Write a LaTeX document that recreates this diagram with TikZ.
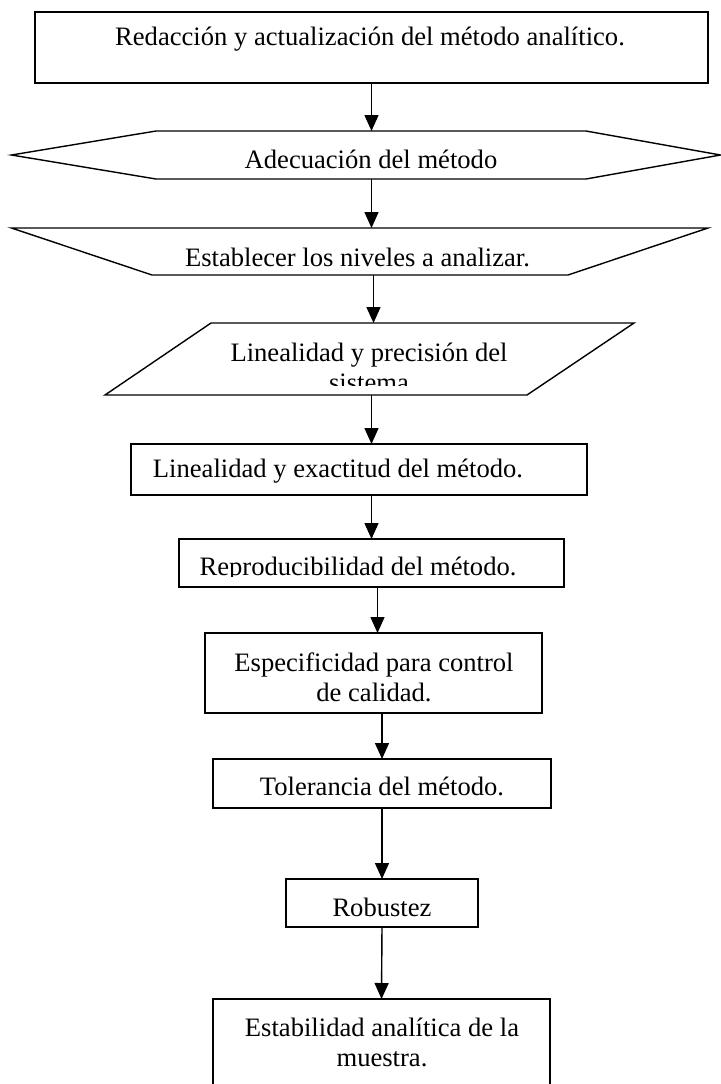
\documentclass[tikz,border=0pt]{standalone}
\usepackage{fontspec}
\setmainfont{Liberation Serif}
\usetikzlibrary{arrows.meta,positioning,calc}

\begin{document}
\begin{tikzpicture}[->, >={Triangle[width=7pt,length=8pt]}, x=0.5pt, y=-0.5pt, line width=0.7pt,
		font=\fontsize{13.3pt}{15pt}\selectfont]
	\tikzstyle{frame}=[draw=black,fill=white,inner sep=0pt,outer sep=0pt]
	\tikzstyle{hidden}=[inner sep=0pt,outer sep=0pt]
	\tikzstyle{txt}=[inner sep=0pt,align=center]
	\path[use as bounding box,clip] (0,0) rectangle (721,1084);
	% frames
	\node[frame,minimum width=336.5pt,minimum height=35.5pt]  (redac) at (371.5,47.5) {};
	\node[hidden,minimum width=354.5pt,minimum height=24pt]   (adec)  at (366,155)    {};
	\node[hidden,minimum width=348.25pt,minimum height=23.5pt](nivel) at (359.75,251.5){};
	\node[hidden,minimum width=264.5pt,minimum height=36pt]   (sist)  at (369.5,359)  {};
	\node[frame,minimum width=228pt,minimum height=25.5pt]    (exact) at (359,469.5)  {};
	\node[frame,minimum width=192.5pt,minimum height=24pt]    (repro) at (371.5,563)  {};
	\node[frame,minimum width=168.5pt,minimum height=40pt]    (espec) at (373.5,673)  {};
	\node[frame,minimum width=169pt,minimum height=24.5pt]    (toler) at (382,783.5)  {};
	\node[frame,minimum width=96pt,minimum height=24pt]       (robus) at (382,903)    {};
	\node[frame,minimum width=168.5pt,minimum height=48pt]    (estab) at (381.5,1047) {};
	% outlines
	\draw[-] (adec.west) -- ([xshift=72.25pt]adec.north west) -- ([xshift=-67.25pt]adec.north east)
		-- (adec.east) -- ([xshift=-67.25pt]adec.south east) -- ([xshift=72.25pt]adec.south west) -- cycle;
	\draw[-] (nivel.north west) -- (nivel.north east) -- ([xshift=-70pt]nivel.south east)
		-- ([xshift=70.25pt]nivel.south west) -- cycle;
	\draw[-] ([xshift=53pt]sist.north west) -- (sist.north east) -- ([xshift=-53.5pt]sist.south east)
		-- (sist.south west) -- cycle;
	% texts
	\node[txt] (redac-t) at (370,39)    {Redacción y actualización del método analítico.};
	\node[txt] (adec-t)  at (371,159)   {Adecuación del método};
	\node[txt] (nivel-t) at (357.5,257) {Establecer los niveles a analizar.};
	\begin{scope}
		\clip (105,323) rectangle (634,385);
		\node[txt] (sist-t) at (369,367) {Linealidad y precisión del\\sistema};
	\end{scope}
	\node[txt] (exact-t) at (338,471)   {Linealidad y exactitud del método.};
	\begin{scope}
		\clip (179,539) rectangle (564,576.5);
		\node[txt,anchor=base] (repro-t) at (358,575) {Reproducibilidad del método.};
	\end{scope}
	\node[txt] (espec-t) at (374,677)   {Especificidad para control\\de calidad.};
	\node[txt] (toler-t) at (382,786)   {Tolerancia del método.};
	\node[txt] (robus-t) at (382,907)   {Robustez};
	\node[txt] (estab-t) at (382,1042)  {Estabilidad analítica de la\\muestra.};
	% arrows
	\path
		(redac.south)                     edge (redac.south |- adec.north)
		(redac.south |- adec.south)       edge (redac.south |- nivel.north)
		([xshift=1pt]redac.south |- nivel.south) edge ([xshift=1pt]redac.south |- sist.north)
		(redac.south |- sist.south)       edge (redac.south |- exact.north)
		(redac.south |- exact.south)      edge (redac.south |- repro.north)
		([xshift=3pt]repro.south)         edge ([xshift=3pt]repro.south |- espec.north)
		(toler.north |- espec.south)      edge (toler.north)
		(toler.south)                     edge (robus.north)
		(robus.south)                     edge (estab.north);
\end{tikzpicture}
\end{document}
